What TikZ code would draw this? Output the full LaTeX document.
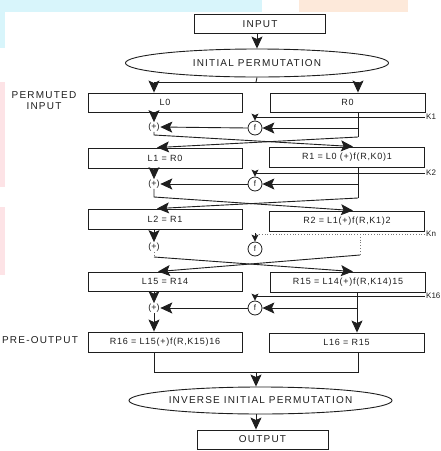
\documentclass[tikz,border=0pt]{standalone}
\usepackage{fontspec}
\setmainfont{Liberation Sans}
\usetikzlibrary{shapes.geometric,arrows.meta}
\definecolor{ink}{HTML}{1E1E1E}
\definecolor{bgcyan}{HTML}{D8F5FB}
\definecolor{bgpeach}{HTML}{FDE9DA}
\definecolor{bgpink}{HTML}{FDE3E6}
\newcommand{\capfont}{\fontsize{10}{11}\selectfont\addfontfeature{LetterSpace=12}}
\newcommand{\boxfont}{\fontsize{9}{10}\selectfont\addfontfeature{LetterSpace=8}}
\tikzset{
  sidebox/.style={draw=ink, line width=0.9pt, minimum height=19pt, inner sep=0pt, text=ink, font=\boxfont},
  lbox/.style={sidebox, minimum width=154pt},
  rbox/.style={sidebox, minimum width=155pt},
  endbox/.style={draw=ink, line width=0.9pt, minimum height=19pt, minimum width=131pt, inner sep=0pt, text=ink, font=\capfont},
  perm/.style={ellipse, draw=ink, line width=0.9pt, inner sep=0pt, text=ink, font=\capfont},
  fnode/.style={circle, draw=ink, line width=0.8pt, minimum size=14pt, inner sep=0pt, text=ink, font=\fontsize{8}{8}\selectfont},
  xornode/.style={inner sep=0.5pt, text=ink, font=\fontsize{9}{9}\selectfont},
  klabel/.style={anchor=west, inner sep=1pt, text=ink, font=\fontsize{8}{8}\selectfont},
  sidelabel/.style={align=center, text=ink, font=\capfont},
  ln/.style={line width=0.9pt, draw=ink},
  bigarrow/.style={ln, -{Stealth[length=12pt,width=11pt,inset=2.5pt]}},
  smallarrow/.style={ln, -{Stealth[length=7pt,width=7pt,inset=1.5pt]}},
  dotln/.style={line width=0.8pt, draw=ink!60, dotted},
}
\begin{document}
\begin{tikzpicture}[x=1pt,y=-1pt]
\path[use as bounding box] (0,0) rectangle (441,451);
% faint background patches
\fill[bgcyan] (0,0) rectangle (262,12);
\fill[bgcyan] (0,0) rectangle (5,48);
\fill[bgpeach] (299,0) rectangle (408,12);
\fill[bgpink] (0,82) rectangle (5,187);
\fill[bgpink] (0,207) rectangle (5,275);

% top
\node[endbox] (input) at (260,24) {INPUT};
\node[perm, minimum width=263pt, minimum height=28pt] (ip) at (257,63) {INITIAL PERMUTATION};
\node[sidelabel] (perminp) at (44,101) {PERMUTED\\INPUT};

% rows of boxes
\node[lbox] (L0) at (165,102.5) {L0};
\node[rbox] (R0) at (347.5,102.5) {R0};
\node[lbox, minimum height=20pt] (L1) at (165,158) {L1 = R0};
\node[rbox, minimum height=20pt] (R1) at (347,157) {R1 = L0 (+)f(R,K0)1};
\node[lbox, minimum height=20pt] (L2) at (165,219) {L2 = R1};
\node[rbox, minimum height=20pt] (R2) at (347,221) {R2 = L1(+)f(R,K1)2};
\node[lbox] (L15) at (165,281.5) {L15 = R14};
\node[rbox, minimum height=20pt] (R15) at (348,282) {R15 = L14(+)f(R,K14)15};
\node[lbox, minimum height=20pt] (R16) at (165,342) {R16 = L15(+)f(R,K15)16};
\node[rbox] (L16) at (346.5,342.5) {L16 = R15};
\node[sidelabel] (preout) at (40,340) {PRE-OUTPUT};

% xor and f nodes
\node[xornode] (p1) at (154,127) {(+)};
\node[xornode] (p2) at (154,184) {(+)};
\node[xornode] (p3) at (154,247) {(+)};
\node[xornode] (p4) at (154,308) {(+)};
\node[fnode] (f1) at (255,128) {f};
\node[fnode] (f2) at (255,184) {f};
\node[fnode] (f3) at (255,249) {f};
\node[fnode] (f4) at (255,308) {f};

% bottom
\node[perm, minimum width=263pt, minimum height=27pt] (iip) at (260.5,400.5) {INVERSE INITIAL PERMUTATION};
\node[endbox] (output) at (262.5,439.5) {OUTPUT};

% key coordinates and labels
\coordinate (k1) at (425,117);
\coordinate (k2) at (425,173);
\coordinate (kn) at (425,234);
\coordinate (k16) at (425,296);
\node[klabel] (k1l) at (k1) {K1};
\node[klabel] (k2l) at (k2) {K2};
\node[klabel] (knl) at (kn) {Kn};
\node[klabel] (k16l) at (k16) {K16};

% branch coordinates
\coordinate (split) at (256,82);
\coordinate (v1) at (358,137);
\coordinate (c1) at (154,135);
\coordinate (v2) at (358,198);
\coordinate (c2) at (154,197);
\coordinate (v3) at (360,255);
\coordinate (c3) at (154,257);
\coordinate (v4) at (357,308);
\coordinate (merge) at (256,372);

% input -> initial permutation -> L0/R0
\draw[bigarrow] (ip.north |- input.south) -- (ip.north);
\draw[ln] (ip.south) -- (split);
\draw[ln] (split -| p1) -- (split -| v1);
\draw[bigarrow] (split -| p1) -- (L0.north -| p1);
\draw[bigarrow] (split -| v1) -- (R0.north -| v1);

% round 1
\draw[bigarrow] (L0.south -| p1) -- (p1.north);
\draw[ln] (R0.south -| v1) -- (v1);
\draw[bigarrow] (v1 |- f1) -- (f1.east);
\draw[bigarrow] (f1.west) -- (p1.east);
\draw[smallarrow] (k1) -- (k1 -| f1) -- (f1.north);
\draw[bigarrow] (p1.south) -- (c1) -- ([xshift=6pt]R1.north);
\draw[bigarrow] (v1) -- ([xshift=-8pt]L1.north);

% round 2
\draw[bigarrow] (L1.south -| p2) -- (p2.north);
\draw[ln] (R1.south -| v2) -- (v2);
\draw[bigarrow] (v2 |- f2) -- (f2.east);
\draw[bigarrow] (f2.west) -- (p2.east);
\draw[smallarrow] (k2) -- (k2 -| f2) -- (f2.north);
\draw[bigarrow] (p2.south) -- (c2) -- ([xshift=6pt]R2.north);
\draw[bigarrow] (v2) -- ([xshift=-8pt]L2.north);

% round 3 (elided rounds)
\draw[bigarrow] (L2.south -| p3) -- (p3.north);
\draw[dotln] (kn) -- (kn -| f3);
\draw[smallarrow] ([yshift=1pt]kn -| f3) -- (f3.north);
\draw[dotln] (kn -| v3) -- (v3);
\draw[dotln] (p3.south) -- (c3);
\draw[bigarrow] (c3) -- ([xshift=5pt]R15.north);
\draw[bigarrow] (v3) -- ([xshift=-7pt]L15.north);

% round 16
\draw[bigarrow] (L15.south -| p4) -- (p4.north);
\draw[bigarrow] (R15.south -| v4) -- (L16.north -| v4);
\draw[bigarrow] (v4) -- (f4.east);
\draw[bigarrow] (f4.west) -- (p4.east);
\draw[smallarrow] (k16) -- (k16 -| f4) -- (f4.north);
\draw[bigarrow] (p4.south) -- (R16.north -| p4);

% merge -> inverse permutation -> output
\draw[ln] (R16.south -| p4) -- (merge -| p4) -- (merge -| v1) -- (L16.south -| v1);
\draw[bigarrow] (merge) -- (merge |- iip.north);
\draw[bigarrow] (merge |- iip.south) -- (merge |- output.north);
\end{tikzpicture}
\end{document}
